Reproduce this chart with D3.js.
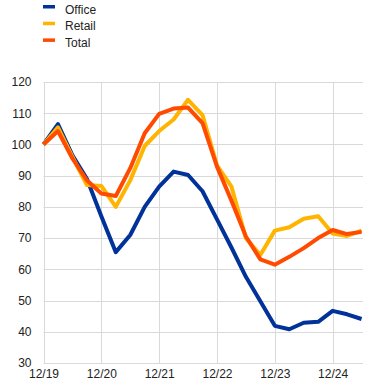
<!DOCTYPE html>
<html><head><meta charset="utf-8">
<script src="https://cdn.jsdelivr.net/npm/d3@7"></script>
<style>body{margin:0;background:#fff}svg{display:block}text{font-family:"Liberation Sans",Arial,sans-serif}</style>
</head><body>
<script>
const xLabels = ["12/19","12/20","12/21","12/22","12/23","12/24"];
const office = [100,106.5,96.5,89,77,65.5,71,80,86.5,91.3,90.2,85,76,67,57.6,49.8,41.9,40.8,42.9,43.2,46.7,45.6,44.1];
const retail = [100,105.5,96,87,86.7,80,88.5,99.5,104.3,108,114.3,109.4,93.3,86.5,70,64.6,72.4,73.5,76.2,77,71.5,70.7,72.4];
const total  = [100,104.3,95.5,88.5,84.3,83.5,92.4,103.6,109.8,111.5,111.8,106.8,92.9,82,70.5,63.2,61.5,64,66.8,70,72.6,71.3,72];
const yTicks = [30,40,50,60,70,80,90,100,110,120];
const seriesNames = ["Office","Retail","Total"];
const colors = ["#003299","#ffb400","#ff4b00"];

const W=372,H=390;
const svg=d3.select("body").append("svg").attr("width",W).attr("height",H);
const x=d3.scaleLinear().domain([0,22.1]).range([43.5,363]);
const y=d3.scaleLinear().domain([30,120]).range([363,82]);
const grid="#d9d9d9";

// horizontal grid
svg.append("g").selectAll("line").data(yTicks).join("line")
  .attr("x1",x(0)).attr("x2",x(22.1)).attr("y1",d=>Math.round(y(d))+0.5).attr("y2",d=>Math.round(y(d))+0.5)
  .attr("stroke",grid).attr("stroke-width",1);
// vertical grid
svg.append("g").selectAll("line").data(xLabels).join("line")
  .attr("x1",(d,i)=>Math.round(x(i*4))+0.5).attr("x2",(d,i)=>Math.round(x(i*4))+0.5)
  .attr("y1",y(120)).attr("y2",y(30)).attr("stroke",grid).attr("stroke-width",1);

// y labels
const yAxis=d3.axisLeft(y).tickValues(yTicks).tickSize(0).tickPadding(12);
const ya=svg.append("g").attr("transform","translate(43.5,0)").call(yAxis);
ya.select(".domain").remove();
ya.selectAll("text").attr("font-size","12px").attr("fill","#222").attr("font-family","Liberation Sans, Arial, sans-serif");

// x labels
const xAxis=d3.axisBottom(x).tickValues(xLabels.map((d,i)=>i*4)).tickFormat((d)=>xLabels[d/4]).tickSize(0).tickPadding(6);
const xa=svg.append("g").attr("transform","translate(0,"+(y(30))+")").call(xAxis);
xa.select(".domain").remove();
xa.selectAll("text").attr("font-size","12px").attr("fill","#222").attr("font-family","Liberation Sans, Arial, sans-serif");

// lines
const line=d3.line().x((d,i)=>x(i)).y(d=>y(d));
[office,retail,total].forEach((s,k)=>{
  svg.append("path").datum(s).attr("d",line).attr("fill","none")
    .attr("stroke",colors[k]).attr("stroke-width",4).attr("stroke-linejoin","round");
});

// legend
const lg=svg.append("g");
seriesNames.forEach((n,k)=>{
  lg.append("rect").attr("x",43).attr("y",5+k*16.7).attr("width",12).attr("height",3.5).attr("fill",colors[k]);
  lg.append("text").attr("x",65).attr("y",13.5+k*16.7).attr("font-size","12px").attr("fill","#222").text(n);
});
</script>
</body></html>
